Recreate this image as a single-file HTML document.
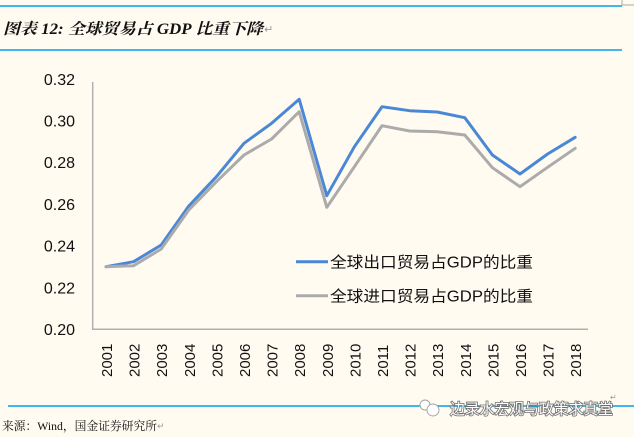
<!DOCTYPE html>
<html>
<head>
<meta charset="utf-8">
<style>
html,body{margin:0;padding:0;background:#FFFBF0;}
svg{display:block;}
</style>
</head>
<body>
<svg width="634" height="437" viewBox="0 0 634 437" xmlns="http://www.w3.org/2000/svg">
<rect width="634" height="437" fill="#FFFBF0"/>
<!-- header lines -->
<line x1="0" y1="6" x2="622" y2="6" stroke="#00A0E9" stroke-width="1.5"/>
<line x1="0" y1="50" x2="622" y2="50" stroke="#00A0E9" stroke-width="1.5"/>
<polyline points="622,0 622,5 634,5" fill="none" stroke="#A8A8A8" stroke-width="1"/>
<text x="3" y="34" font-family="'Liberation Serif','Noto Serif CJK SC',serif" font-size="15.5" font-style="italic" font-weight="bold" fill="#111" textLength="260" lengthAdjust="spacingAndGlyphs">图表 12:  全球贸易占 GDP 比重下降</text>
<text x="264" y="33" font-family="'DejaVu Sans',sans-serif" font-size="11" fill="#999">↵</text>

<!-- axes -->
<line x1="92.7" y1="82" x2="92.7" y2="329.5" stroke="#B0B0B0" stroke-width="1.5"/>
<line x1="92" y1="329.3" x2="588" y2="329.3" stroke="#B0B0B0" stroke-width="1.5"/>

<!-- y labels -->
<g font-family="'Liberation Sans',sans-serif" font-size="16" fill="#111" text-anchor="end">
<text x="75" y="84.8">0.32</text>
<text x="75" y="126.5">0.30</text>
<text x="75" y="168.2">0.28</text>
<text x="75" y="209.9">0.26</text>
<text x="75" y="251.6">0.24</text>
<text x="75" y="293.3">0.22</text>
<text x="75" y="335">0.20</text>
</g>

<!-- x labels -->
<g font-family="'Liberation Sans',sans-serif" font-size="15" fill="#111">
<text transform="translate(112,377) rotate(-90)">2001</text>
<text transform="translate(139.6,377) rotate(-90)">2002</text>
<text transform="translate(167.2,377) rotate(-90)">2003</text>
<text transform="translate(194.8,377) rotate(-90)">2004</text>
<text transform="translate(222.4,377) rotate(-90)">2005</text>
<text transform="translate(250,377) rotate(-90)">2006</text>
<text transform="translate(277.6,377) rotate(-90)">2007</text>
<text transform="translate(305.2,377) rotate(-90)">2008</text>
<text transform="translate(332.8,377) rotate(-90)">2009</text>
<text transform="translate(360.4,377) rotate(-90)">2010</text>
<text transform="translate(388,377) rotate(-90)">2011</text>
<text transform="translate(415.6,377) rotate(-90)">2012</text>
<text transform="translate(443.2,377) rotate(-90)">2013</text>
<text transform="translate(470.8,377) rotate(-90)">2014</text>
<text transform="translate(498.4,377) rotate(-90)">2015</text>
<text transform="translate(526,377) rotate(-90)">2016</text>
<text transform="translate(553.6,377) rotate(-90)">2017</text>
<text transform="translate(581.2,377) rotate(-90)">2018</text>
</g>

<!-- series -->
<polyline fill="none" stroke="#4A88D6" stroke-width="3" stroke-linejoin="round" stroke-linecap="round"
points="106,266.7 133.6,261.7 161.2,245 188.8,206 216.4,176.7 244,143.3 271.6,123.3 299.2,99.3 326.8,195.7 354.4,146.7 382,106.7 409.6,110.7 437.2,112 464.8,117.7 492.4,155 520,174 547.6,154 575.2,137.3"/>
<polyline fill="none" stroke="#ABABAB" stroke-width="3" stroke-linejoin="round" stroke-linecap="round"
points="106,266.7 133.6,265.7 161.2,249 188.8,210 216.4,181.7 244,155 271.6,139 299.2,111.7 326.8,207.3 354.4,166.7 382,125.7 409.6,131 437.2,131.7 464.8,135 492.4,167.7 520,186.7 547.6,167.3 575.2,148.3"/>

<!-- legend -->
<line x1="296" y1="261.7" x2="328" y2="261.7" stroke="#4A88D6" stroke-width="3"/>
<line x1="296" y1="295.7" x2="328" y2="295.7" stroke="#ABABAB" stroke-width="3"/>
<g font-family="'Liberation Sans','Noto Sans CJK SC',sans-serif" font-size="15.5" fill="#111">
<text x="330" y="267.3" textLength="203" lengthAdjust="spacingAndGlyphs">全球出口贸易占GDP的比重</text>
<text x="330" y="301.3" textLength="203" lengthAdjust="spacingAndGlyphs">全球进口贸易占GDP的比重</text>
</g>

<!-- bottom -->
<line x1="8" y1="406" x2="634" y2="406" stroke="#00A0E9" stroke-width="1.5"/>
<text x="2" y="430" font-family="'Liberation Serif','Noto Serif CJK SC',serif" font-size="12" fill="#111" textLength="155" lengthAdjust="spacingAndGlyphs">来源：Wind，国金证券研究所</text>
<text x="157" y="429" font-family="'DejaVu Sans',sans-serif" font-size="9" fill="#999">↵</text>

<!-- watermark -->
<g fill="#FFFFFF" stroke="#A0A0A0" stroke-width="0.9">
<circle cx="425" cy="405" r="5"/>
<circle cx="433" cy="410" r="6"/>
</g>
<text x="450" y="414" font-family="'Noto Sans CJK SC',sans-serif" font-size="15" fill="#FFFFFF" stroke="#6E6E6E" stroke-width="1.6" paint-order="stroke" textLength="163" lengthAdjust="spacingAndGlyphs">边录水宏观与政策求真堂</text>
<text x="610" y="400" font-family="'DejaVu Sans',sans-serif" font-size="8" fill="#999">↵</text>
</svg>
</body>
</html>
